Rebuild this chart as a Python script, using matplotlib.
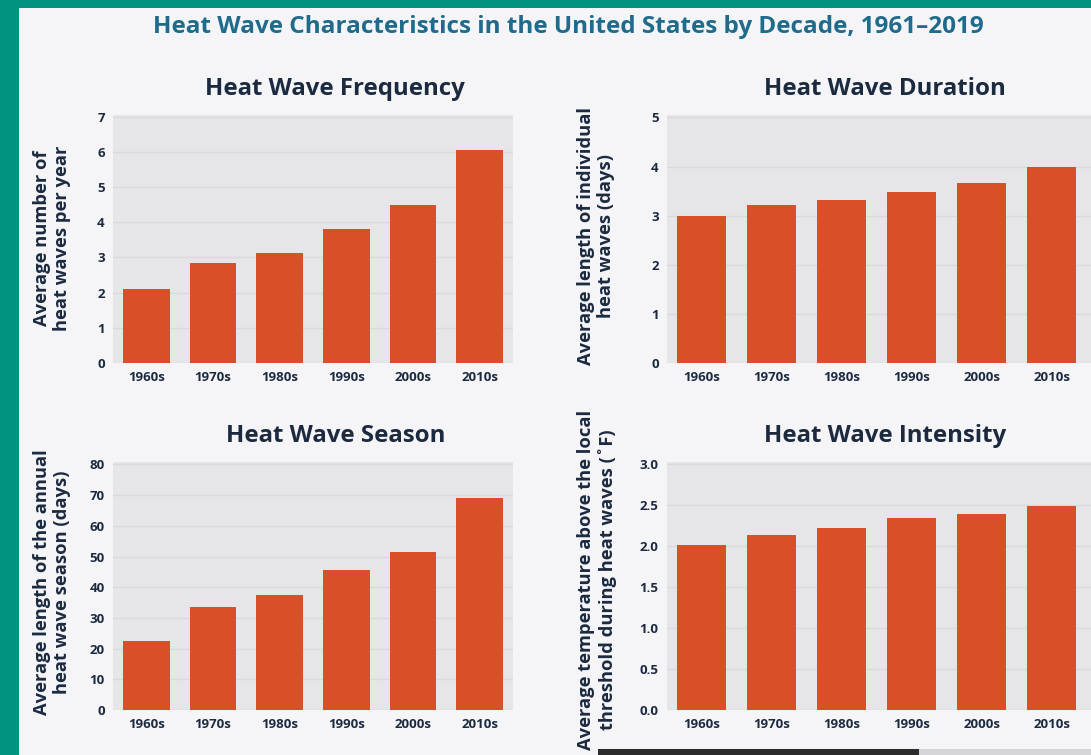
import matplotlib.pyplot as plt
from matplotlib.patches import Rectangle

plt.rcParams['font.family'] = ['Open Sans', 'DejaVu Sans']

W, H = 1091, 755

decades = ['1960s', '1970s', '1980s', '1990s', '2000s', '2010s']
frequency = [2.1, 2.85, 3.12, 3.8, 4.5, 6.05]
duration = [3.0, 3.22, 3.32, 3.48, 3.66, 4.0]
season = [22.5, 33.5, 37.5, 45.5, 51.5, 69.0]
intensity = [2.02, 2.14, 2.22, 2.35, 2.39, 2.49]

bar_col = '#d84f2a'
navy = '#1c2a40'
bg = '#f5f5f8'
axbg = '#e6e6ea'

fig = plt.figure(figsize=(W / 100, H / 100), dpi=100)
fig.patch.set_facecolor('#00937f')

# light page on top of the teal frame
fig.patches.append(Rectangle((19 / W, 0), 1 - 19 / W, 1 - 8 / H,
                             transform=fig.transFigure, facecolor=bg,
                             edgecolor='none', zorder=-2))
# video progress bar along the bottom
fig.patches.append(Rectangle((598 / W, 0), (919 - 598) / W, 6 / H,
                             transform=fig.transFigure, facecolor='#2b2b2b',
                             edgecolor='none', zorder=-1))
fig.patches.append(Rectangle((919 / W, 0), (W - 919) / W, 6 / H,
                             transform=fig.transFigure, facecolor='#d6d6d8',
                             edgecolor='none', zorder=-1))


def px_axes(x0, y0, x1, y1):
    return fig.add_axes([x0 / W, 1 - y1 / H, (x1 - x0) / W, (y1 - y0) / H])


def panel(box, values, ylim, ticks, ticklabels, title, title_x,
          ylabel, label_x, label_y, xmax):
    ax = px_axes(*box)
    ax.set_facecolor(axbg)
    ax.bar(range(len(decades)), values, width=0.7, color=bar_col, zorder=3)
    ax.set_xlim(-0.5, xmax)
    ax.set_ylim(0, ylim)
    ax.set_yticks(ticks)
    ax.set_yticklabels(ticklabels)
    ax.set_xticks(range(len(decades)))
    ax.set_xticklabels(decades)
    ax.grid(axis='y', color='#d9d9de', linewidth=1.0, zorder=1)
    for s in ax.spines.values():
        s.set_visible(False)
    ax.tick_params(length=0, labelsize=9.5, labelcolor=navy, pad=6)
    for lab in ax.get_xticklabels() + ax.get_yticklabels():
        lab.set_fontweight('bold')
    fig.text(title_x / W, 1 - (box[1] - 26) / H, title, ha='center', va='center',
             fontsize=17.3, fontweight='bold', color=navy)
    fig.text(label_x / W, 1 - label_y / H, ylabel, rotation=90, ha='center',
             va='center', fontsize=13.2, fontweight='bold', color=navy,
             linespacing=1.2)
    return ax


panel((113, 115, 513, 363), frequency, 7.05, range(0, 8), [str(i) for i in range(8)],
      'Heat Wave Frequency', 335,
      'Average number of\nheat waves per year', 52, 238, 5.5)
panel((667, 115, 1091, 363), duration, 5.05, range(0, 6), [str(i) for i in range(6)],
      'Heat Wave Duration', 885,
      'Average length of individual\nheat waves (days)', 596, 236, 5.56)
panel((113, 462, 513, 710), season, 80.8, range(0, 90, 10), [str(i) for i in range(0, 90, 10)],
      'Heat Wave Season', 336,
      'Average length of the annual\nheat wave season (days)', 52, 582, 5.5)
iv_ticks = [0, 0.5, 1.0, 1.5, 2.0, 2.5, 3.0]
panel((667, 462, 1091, 710), intensity, 3.03, iv_ticks, [f'{t:.1f}' for t in iv_ticks],
      'Heat Wave Intensity', 885,
      'Average temperature above the local\nthreshold during heat waves (\u02daF)', 597, 580, 5.56)

fig.text(568 / W, 1 - 27 / H,
         'Heat Wave Characteristics in the United States by Decade, 1961\u20132019',
         ha='center', va='center', fontsize=17.5, fontweight='bold',
         color='#1f6b8c')

fig.savefig('out.png', dpi=100, facecolor=fig.get_facecolor())
